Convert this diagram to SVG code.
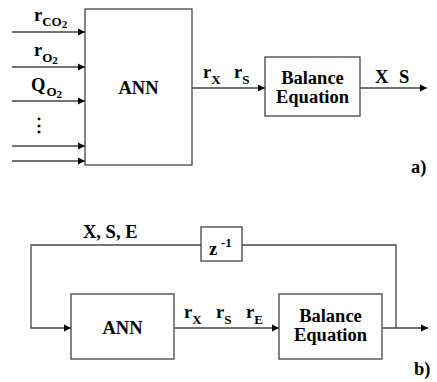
<svg xmlns="http://www.w3.org/2000/svg" width="437" height="382" viewBox="0 0 437 382">
<style>
.box{fill:#fff;stroke:#444;stroke-width:1.3}
.ln{fill:none;stroke:#444;stroke-width:1.3}
text{font-family:'Liberation Serif','Times New Roman',serif;font-weight:bold;fill:#000}
.t{font-size:18.5px}
.s{font-size:13px}
.ss{font-size:11px}
</style>
<defs>
<marker id="ah" markerWidth="8" markerHeight="8" refX="7" refY="4" orient="auto" markerUnits="userSpaceOnUse">
<path d="M0,0.5 L7,4 L0,7.5 Z" fill="#000"/>
</marker>
</defs>
<rect width="437" height="382" fill="#fff"/>
<g id="connectors">
<line class="ln" x1="12" y1="32" x2="85" y2="32" marker-end="url(#ah)"/>
<line class="ln" x1="12" y1="67" x2="85" y2="67" marker-end="url(#ah)"/>
<line class="ln" x1="12" y1="101" x2="85" y2="101" marker-end="url(#ah)"/>
<line class="ln" x1="12" y1="146" x2="85" y2="146" marker-end="url(#ah)"/>
<line class="ln" x1="12" y1="161" x2="85" y2="161" marker-end="url(#ah)"/>
<line class="ln" x1="192" y1="88" x2="265" y2="88" marker-end="url(#ah)"/>
<line class="ln" x1="360" y1="88" x2="427" y2="88" marker-end="url(#ah)"/>
<polyline class="ln" points="201,245 31,245 31,328 71,328" marker-end="url(#ah)"/>
<polyline class="ln" points="242,245 396,245 396,328"/>
<line class="ln" x1="174" y1="328" x2="279" y2="328" marker-end="url(#ah)"/>
<line class="ln" x1="382" y1="328" x2="428" y2="328" marker-end="url(#ah)"/>
</g>
<g id="labels-a">
<text class="t" x="34" y="21">r<tspan class="s" dy="5">CO</tspan><tspan class="ss" dy="2">2</tspan></text>
<text class="t" x="34" y="56">r<tspan class="s" dy="6">O</tspan><tspan class="ss" dy="2">2</tspan></text>
<text class="t" x="31" y="91">Q<tspan class="s" dy="5" dx="1">O</tspan><tspan class="ss" dy="2">2</tspan></text>
<text x="30" y="131" style="font-family:'DejaVu Serif',serif;font-size:18px;font-weight:bold">⋮</text>
<text class="t" x="203" y="78">r<tspan class="s" dy="6">X</tspan><tspan x="234" dy="-6">r</tspan><tspan class="s" dy="6">S</tspan></text>
<text class="t" y="83"><tspan x="375">X</tspan><tspan x="399">S</tspan></text>
<text class="t" x="411" y="173">a)</text>
</g>
<g id="ann-a"><rect class="box" x="85" y="9" width="107" height="156"/><text class="t" x="138.5" y="94" text-anchor="middle">ANN</text></g>
<g id="balance-a"><rect class="box" x="265" y="57" width="95" height="59"/><text class="t" x="312.5" y="84" text-anchor="middle">Balance</text><text class="t" x="312.5" y="103" text-anchor="middle">Equation</text></g>
<g id="delay-b"><rect class="box" x="201" y="227" width="41" height="34"/><text class="t" x="209" y="255">z<tspan class="s" x="221" dy="-8" font-size="14">-1</tspan></text></g>
<g id="ann-b"><rect class="box" x="71" y="294" width="103" height="65"/><text class="t" x="122.5" y="334" text-anchor="middle">ANN</text></g>
<g id="balance-b"><rect class="box" x="279" y="294" width="103" height="65"/><text class="t" x="330.5" y="322" text-anchor="middle">Balance</text><text class="t" x="330.5" y="341" text-anchor="middle">Equation</text></g>
<g id="labels-b">
<text class="t" x="83" y="238">X, S, E</text>
<text class="t" x="184" y="318">r<tspan class="s" dy="6">X</tspan><tspan x="216" dy="-6">r</tspan><tspan class="s" dy="6">S</tspan><tspan x="246" dy="-6">r</tspan><tspan class="s" dy="6">E</tspan></text>
<text class="t" x="414" y="375">b)</text>
</g>
</svg>
